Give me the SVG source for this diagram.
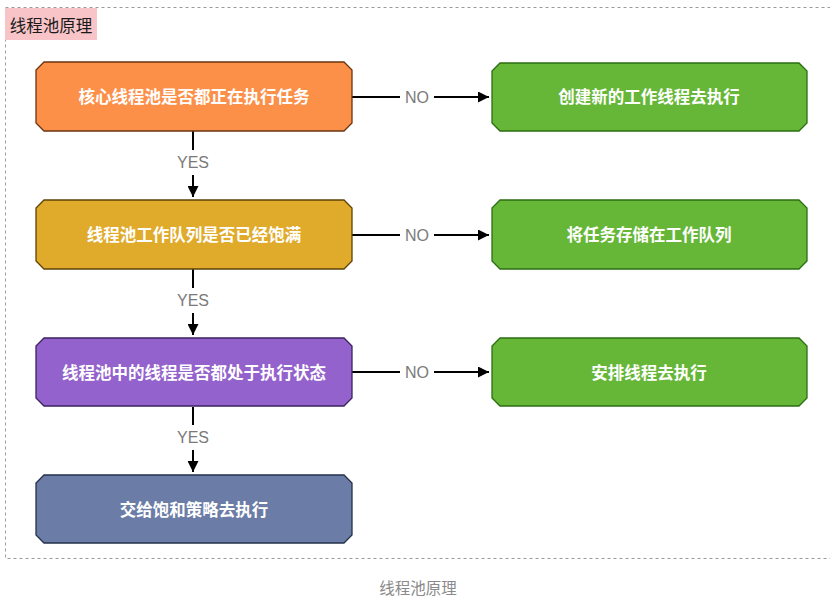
<svg xmlns="http://www.w3.org/2000/svg" width="830" height="602" viewBox="0 0 830 602">
<defs>
<style>
.frame{fill:none;stroke:#9a9a9a;stroke-width:1;stroke-dasharray:3 3}
.node{stroke-width:1.3}
.nt{font-family:"Noto Sans CJK SC","Noto Sans",sans-serif;font-size:16.5px;font-weight:bold;fill:#ffffff;text-anchor:middle;dominant-baseline:central}
.lbl{font-family:"Liberation Sans","Noto Sans CJK SC",sans-serif;font-size:16px;fill:#7a7a7a;text-anchor:middle;dominant-baseline:central}
.edge{stroke:#000;stroke-width:2;fill:none}
.green{fill:#66b737;stroke:#2b6e12}
</style>
<marker id="arr" viewBox="0 0 10 10" refX="10" refY="5" markerWidth="5.5" markerHeight="5.5" orient="auto" markerUnits="strokeWidth">
<path d="M0,0 L10,5 L0,10 z" fill="#000"/>
</marker>
</defs>
<rect width="830" height="602" fill="#ffffff"/>
<rect class="frame" x="5.5" y="7.5" width="840" height="551"/>
<g id="title">
<rect x="5" y="8" width="92" height="32" fill="#f8c4c8"/>
<text x="51" y="25" font-family="Noto Sans CJK SC,sans-serif" font-size="16.5" fill="#1a1a1a" text-anchor="middle" dominant-baseline="central">线程池原理</text>
</g>
<g id="connectors">
<path class="edge" d="M352,97 H400"/>
<path class="edge" d="M434,97 H489" marker-end="url(#arr)"/>
<text class="lbl" x="417" y="97">NO</text>
<path class="edge" d="M352,235 H400"/>
<path class="edge" d="M434,235 H489" marker-end="url(#arr)"/>
<text class="lbl" x="417" y="235">NO</text>
<path class="edge" d="M352,372 H400"/>
<path class="edge" d="M434,372 H489" marker-end="url(#arr)"/>
<text class="lbl" x="417" y="372">NO</text>
<path class="edge" d="M193,131 V150"/>
<path class="edge" d="M193,175 V197" marker-end="url(#arr)"/>
<text class="lbl" x="193" y="162">YES</text>
<path class="edge" d="M193,269 V288"/>
<path class="edge" d="M193,313 V335" marker-end="url(#arr)"/>
<text class="lbl" x="193" y="300">YES</text>
<path class="edge" d="M193,407 V425"/>
<path class="edge" d="M193,450 V472" marker-end="url(#arr)"/>
<text class="lbl" x="193" y="437">YES</text>
</g>
<g id="n1">
<polygon class="node" points="44,62 344,62 352,70 352,123 344,131 44,131 36,123 36,70" fill="#fd9049" stroke="#6a3410"/>
<text class="nt" x="194" y="96">核心线程池是否都正在执行任务</text>
</g>
<g id="n2">
<polygon class="node" points="44,200 344,200 352,208 352,261 344,269 44,269 36,261 36,208" fill="#e0aa2a" stroke="#5c4308"/>
<text class="nt" x="194" y="234">线程池工作队列是否已经饱满</text>
</g>
<g id="n3">
<polygon class="node" points="44,338 344,338 352,346 352,398 344,406 44,406 36,398 36,346" fill="#9462cc" stroke="#3d2260"/>
<text class="nt" x="194" y="372">线程池中的线程是否都处于执行状态</text>
</g>
<g id="n4">
<polygon class="node" points="44,475 344,475 352,483 352,535 344,543 44,543 36,535 36,483" fill="#6b7ca6" stroke="#253049"/>
<text class="nt" x="194" y="509">交给饱和策略去执行</text>
</g>
<g id="g1">
<polygon class="node green" points="500,63 799,63 807,71 807,123 799,131 500,131 492,123 492,71"/>
<text class="nt" x="649" y="96">创建新的工作线程去执行</text>
</g>
<g id="g2">
<polygon class="node green" points="500,200 799,200 807,208 807,261 799,269 500,269 492,261 492,208"/>
<text class="nt" x="649" y="234">将任务存储在工作队列</text>
</g>
<g id="g3">
<polygon class="node green" points="500,338 799,338 807,346 807,398 799,406 500,406 492,398 492,346"/>
<text class="nt" x="649" y="372">安排线程去执行</text>
</g>
<text x="418" y="587" font-family="Noto Sans CJK SC,sans-serif" font-size="15.5" fill="#8a8a8a" text-anchor="middle" dominant-baseline="central">线程池原理</text>
</svg>
